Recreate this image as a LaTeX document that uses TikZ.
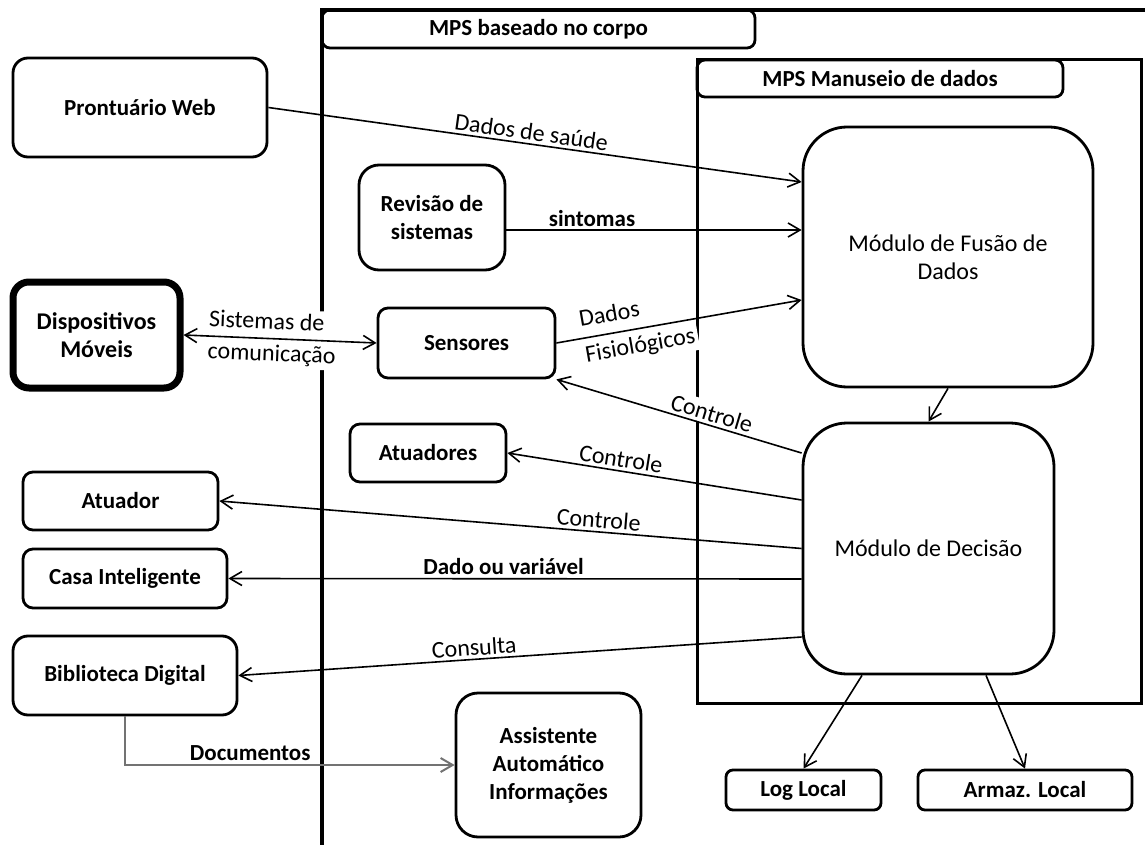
\documentclass[tikz,border=0pt]{standalone}
\usepackage{fontspec}
\setmainfont{Carlito}
\usetikzlibrary{arrows.meta,calc}
\tikzset{
  box/.style={draw, line width=1.4pt, rounded corners=5pt, align=center, inner sep=2pt,
    font=\bfseries\fontsize{11.5}{14}\selectfont},
  module/.style={draw, line width=1.4pt, rounded corners=22pt, align=center,
    font=\fontsize{12}{14}\selectfont},
  titlebox/.style={box, rounded corners=4pt},
  barb/.tip={Straight Barb[length=6pt,width=7pt]},
  arr/.style={line width=0.8pt, -barb},
  rarr/.style={line width=0.8pt, barb-},
  lbl/.style={font=\fontsize{12}{15}\selectfont, inner sep=1.5pt, fill=white, behind path},
  blbl/.style={lbl, font=\bfseries\fontsize{11.5}{14}\selectfont},
}
\begin{document}
\begin{tikzpicture}[x=0.5pt, y=-0.5pt]
  \useasboundingbox (0,0) rectangle (1145,845);

  % frames
  \draw[line width=2pt] (322,845) -- (322,10) -- (1145,10);
  \node[titlebox, minimum width=216.5pt, minimum height=19pt] (bodytitle) at (538.5,29) {MPS baseado no corpo};
  \draw[line width=1.5pt] (697,60) rectangle (1141,703);
  \node[titlebox, minimum width=183pt, minimum height=18.5pt] (datatitle) at (880,78.5) {MPS Manuseio de dados};

  % outside
  \node[box, minimum width=127pt, minimum height=49.5pt, rounded corners=7.5pt] (pront) at (140,107.5) {Prontuário Web};
  \node[box, line width=3.5pt, minimum width=83.5pt, minimum height=53pt, rounded corners=8pt, font=\bfseries\fontsize{12}{14}\selectfont] (disp) at (96.5,335) {Dispositivos\\Móveis};
  \node[box, minimum width=97.5pt, minimum height=29pt] (atuador) at (120.5,501) {Atuador};
  \node[box, minimum width=102pt, minimum height=29.5pt] (casa) at (125,578.5) {Casa Inteligente};
  \node[box, minimum width=112pt, minimum height=39.5pt, rounded corners=7.5pt] (biblio) at (125,675.5) {Biblioteca Digital};

  % body
  \node[box, minimum width=73pt, minimum height=52.5pt, rounded corners=10pt] (revisao) at (432,217.5) {Revisão de\\sistemas};
  \node[box, minimum width=88.5pt, minimum height=35pt] (sensores) at (466.5,343) {Sensores};
  \node[box, minimum width=78pt, minimum height=29pt] (atuadores) at (428,453) {Atuadores};
  \node[box, minimum width=92.5pt, minimum height=72pt, rounded corners=11pt] (assist) at (548.5,765) {Assistente\\Automático\\Informações};

  % data handling
  \node[module, minimum width=145pt, minimum height=130pt] (fusion) at (948,257) {Módulo de Fusão de\\Dados};
  \node[module, minimum width=125.5pt, minimum height=125.5pt] (decision) at (928.5,548.5) {Módulo de Decisão};
  \node[box, minimum width=77.5pt, minimum height=20pt, rounded corners=3.5pt] (log) at (803.5,790) {Log Local};
  \node[box, minimum width=107pt, minimum height=20pt, rounded corners=3.5pt] (armaz) at (1025,790) {Armaz. Local};

  % connectors
  \draw[arr] (pront.east) -- ($(fusion.west)+(0,-75)$) node[lbl, above, sloped, pos=.49] {Dados de saúde};
  \draw[arr] ($(revisao.east)+(0,12.5)$) -- ($(fusion.west)+(0,-27)$) node[blbl, above, pos=.29] {sintomas};
  \draw[line width=0.8pt, barb-barb] (disp.east) -- (sensores.west) node[lbl, sloped, pos=.46, align=left] {Sistemas de\\[1pt]comunicação};
  \draw[arr] (sensores.east) -- ($(fusion.west)+(0,43)$) node[lbl, sloped, pos=.33, align=left] {Dados\\[3pt]Fisiológicos};
  \draw[arr] (fusion.south) -- (decision.north);
  \draw[rarr] (sensores.south east) -- ($(decision.west)+(0,-95.5)$) node[lbl, above, sloped, pos=.62] {Controle};
  \draw[rarr] (atuadores.east) -- ($(decision.west)+(0,-48.5)$) node[lbl, above, sloped, pos=.38] {Controle};
  \draw[rarr] (atuador.east) -- (decision.west) node[lbl, above, sloped, pos=.65] {Controle};
  \draw[rarr] (casa.east) -- ($(decision.west)+(0,30.5)$) node[blbl, above, pos=.48] {Dado ou variável};
  \draw[rarr] (biblio.east) -- ($(decision.west)+(0,88.5)$) node[lbl, above, sloped, pos=.42] {Consulta};
  \draw[arr, black!55, line width=1pt] (biblio.south) |- (assist.west) node[blbl, above, pos=.69, text=black] {Documentos};
  \draw[arr] ($(decision.south)+(-66.5,0)$) -- (log.north);
  \draw[arr] ($(decision.south)+(57.5,0)$) -- (armaz.north);
\end{tikzpicture}
\end{document}
